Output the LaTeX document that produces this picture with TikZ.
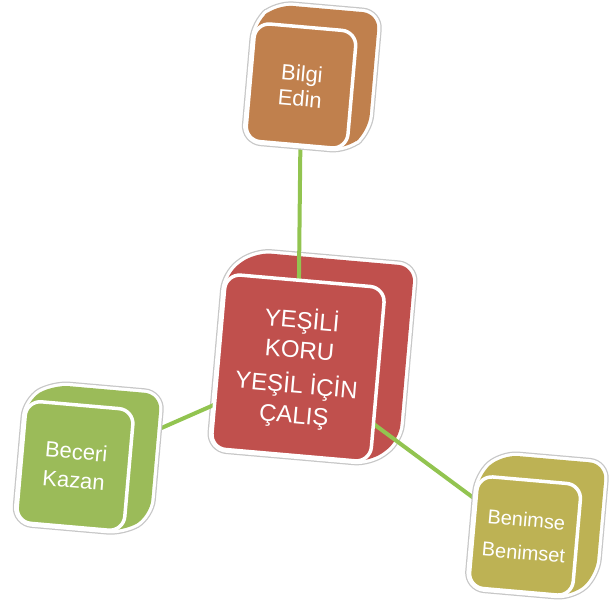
\documentclass[tikz,border=0pt]{standalone}
\usepackage{fontspec}
\setmainfont{Liberation Sans}
\definecolor{cbrown}{RGB}{192,128,77}
\definecolor{cred}{RGB}{192,80,77}
\definecolor{cgreen}{RGB}{155,187,89}
\definecolor{colive}{RGB}{189,178,84}
\definecolor{cline}{RGB}{146,196,80}
\pgfdeclarelayer{bg}
\pgfdeclarelayer{lk}
\pgfsetlayers{bg,lk,main}
\tikzset{
 hullline/.style={draw=black!22, line width=9pt, rounded corners=16pt},
 hullwhite/.style={draw=white, line width=6.5pt, rounded corners=16pt},
 face/.style={draw=white, line width=3.5pt, fill=#1, rounded corners=15pt, text=white, align=center, transform shape, inner sep=0pt},
 link/.style={draw=cline, line width=4pt},
}
\newcommand{\hullp}[4]{(-#1,-#2) -- (#1,-#2) -- (#1+#3,-#2+#4) -- (#1+#3,#2+#4) -- (-#1+#3,#2+#4) -- (-#1,#2) -- cycle}
\newcommand{\mkhull}[5]{%
 \path[hullline] \hullp{#1}{#2}{#3}{#4};
 \path[hullwhite] \hullp{#1}{#2}{#3}{#4};
 \path[fill=#5, rounded corners=16pt] \hullp{#1}{#2}{#3}{#4};}
\begin{document}
\begin{tikzpicture}[x=1pt,y=1pt]
\useasboundingbox (0,0) rectangle (609,613);
% center
\begin{pgfonlayer}{bg}
\begin{scope}[shift={(298,245)}, rotate=-5]
\mkhull{80}{87.5}{27}{24}{cred}
\end{scope}
\end{pgfonlayer}
\begin{scope}[shift={(298,245)}, rotate=-5]
\node[face=cred, minimum width=160pt, minimum height=175pt, font=\fontsize{24}{30}\selectfont] (center) at (0,0) {YEŞİLİ\\KORU\\[5pt]YEŞİL İÇİN\\ÇALIŞ};
\end{scope}
% top
\begin{scope}[shift={(301,527)}, rotate=-5]
\mkhull{51}{59}{20}{20}{cbrown}
\node[face=cbrown, minimum width=102pt, minimum height=118pt, font=\fontsize{22}{25}\selectfont] (top) at (0,0) {Bilgi\\Edin};
\end{scope}
% left
\begin{scope}[shift={(75,147)}, rotate=-5]
\mkhull{54}{61}{25}{18}{cgreen}
\node[face=cgreen, minimum width=108pt, minimum height=122pt, font=\fontsize{22}{29}\selectfont] (left) at (0,0) {Beceri\\Kazan};
\end{scope}
% right
\begin{scope}[shift={(525,77)}, rotate=-5]
\mkhull{52}{56}{22}{23}{colive}
\node[face=colive, minimum width=104pt, minimum height=112pt, font=\fontsize{20}{33}\selectfont] (right) at (0,0) {Benimse\\Benimset};
\end{scope}
\begin{pgfonlayer}{lk}
\draw[link] (center.center) -- (top.center);
\draw[link] (center.center) -- (left.center);
\draw[link] (center.center) -- (right.center);
\end{pgfonlayer}
\end{tikzpicture}
\end{document}
